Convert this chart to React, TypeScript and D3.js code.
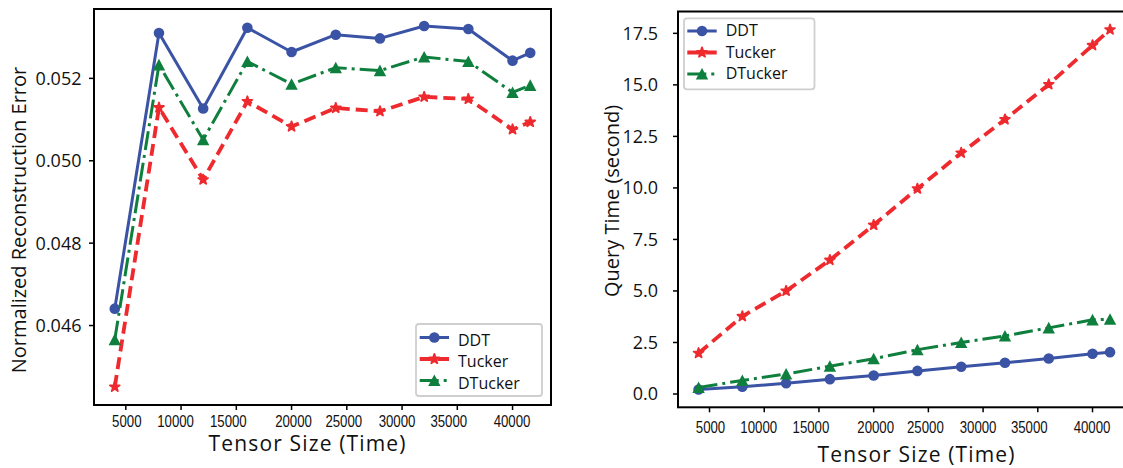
import React from "react";
import * as d3 from "d3";

// tensor size (time mode length) for every measurement
const tensorSizes = [4000, 8000, 12000, 16000, 20000, 24000, 28000, 32000, 36000, 40000, 41600];

// normalized reconstruction error
const errDDT = [0.04641, 0.0531, 0.05127, 0.05323, 0.05264, 0.05306, 0.05297, 0.05327, 0.0532, 0.05243, 0.05262];
const errTucker = [0.04451, 0.05129, 0.04954, 0.05144, 0.05083, 0.05128, 0.0512, 0.05155, 0.0515, 0.05076, 0.05094];
const errDTucker = [0.04566, 0.05233, 0.05051, 0.05241, 0.05186, 0.05226, 0.05219, 0.05252, 0.05241, 0.05166, 0.05183];

// query time in seconds
const timeDDT = [0.22, 0.35, 0.52, 0.72, 0.9, 1.12, 1.32, 1.52, 1.72, 1.95, 2.03];
const timeTucker = [1.98, 3.77, 5.0, 6.5, 8.2, 9.96, 11.7, 13.32, 15.02, 16.92, 17.68];
const timeDTucker = [0.32, 0.66, 0.97, 1.35, 1.71, 2.15, 2.5, 2.82, 3.21, 3.6, 3.63];

const seriesNames = ["DDT", "Tucker", "DTucker"];
const xTicks = [5000, 10000, 15000, 20000, 25000, 30000, 35000, 40000];
const errTicks = [0.046, 0.048, 0.05, 0.052];
const timeTicks = [0, 2.5, 5, 7.5, 10, 12.5, 15, 17.5];

// the tick labels in the figure sit a little off their ticks
const xTickNudge = [1, -5.5, -8, 2, -3, -5, -8.5, -0.5];

const X_DOMAIN: [number, number] = [2120, 43480];

const styles: Record<string, any> = {
  DDT: { color: "#3a53a4", dash: null, width: 3, marker: "circle" },
  Tucker: { color: "#ee2a2e", dash: "12 6", width: 3.8, marker: "star" },
  DTucker: { color: "#0f7f3e", dash: "19 5 3 5", width: 3, marker: "triangle" },
};

const tickFont = "'Open Sans', sans-serif";
const xTickFont = "'Liberation Sans', Arial, sans-serif";
const ROW = 21.5; // legend row height

function Marker({ kind, x, y, color }: any) {
  if (kind === "circle") return <circle cx={x} cy={y} r={5.3} fill={color} />;
  if (kind === "triangle") {
    return <path d={`M${x},${y - 6}L${x - 6.2},${y + 5.6}L${x + 6.2},${y + 5.6}Z`} fill={color} />;
  }
  const star = d3.symbol().type(d3.symbolStar).size(30)()!;
  return <path d={star} transform={`translate(${x},${y})`} fill={color} stroke={color} strokeWidth={1.8} strokeLinejoin="round" />;
}

function Legend({ box, handleX, textX, handleY0, textY0 }: any) {
  return (
    <g>
      <rect x={box.x} y={box.y} width={box.w} height={box.h} rx={3} fill="white" fillOpacity={0.85} stroke="#cfcfcf" strokeWidth={1.8} />
      {seriesNames.map((name, i) => {
        const s = styles[name];
        const hy = handleY0 + i * ROW;
        return (
          <g key={name}>
            <line x1={handleX[0]} x2={handleX[1]} y1={hy} y2={hy} stroke={s.color} strokeWidth={s.width} strokeDasharray={s.dash || undefined} />
            <Marker kind={s.marker} x={(handleX[0] + handleX[1]) / 2} y={hy} color={s.color} />
            <text x={textX} y={textY0 + i * ROW} fontFamily={tickFont} fontSize={16} fill="#111">
              {name}
            </text>
          </g>
        );
      })}
    </g>
  );
}

function Panel({ frame, yDomain, yTicks, yFmt, values, yLabel, yLabelPos, xLabelPos, tickBaseline, yTickEnd, legend }: any) {
  const x = d3.scaleLinear().domain(X_DOMAIN).range([frame.left, frame.right]);
  const y = d3.scaleLinear().domain(yDomain).range([frame.bottom, frame.top]);
  const line = d3
    .line<number>()
    .x((_, i) => x(tensorSizes[i]))
    .y((d) => y(d));

  return (
    <g>
      {seriesNames.map((name, k) => {
        const s = styles[name];
        return (
          <g key={name}>
            <path d={line(values[k])!} fill="none" stroke={s.color} strokeWidth={s.width} strokeDasharray={s.dash || undefined} strokeLinejoin="round" />
            {values[k].map((v: number, i: number) => (
              <Marker key={i} kind={s.marker} x={x(tensorSizes[i])} y={y(v)} color={s.color} />
            ))}
          </g>
        );
      })}

      <rect x={frame.left} y={frame.top} width={frame.right - frame.left} height={frame.bottom - frame.top} fill="none" stroke="#000" strokeWidth={2} />

      {yTicks.map((t: number) => (
        <g key={t}>
          <line x1={frame.left - 5} x2={frame.left} y1={y(t)} y2={y(t)} stroke="#000" strokeWidth={1.5} />
          <text x={yTickEnd} y={y(t)} dy="0.36em" textAnchor="end" fontFamily={tickFont} fontSize={18} fill="#111">
            {yFmt(t)}
          </text>
        </g>
      ))}

      {xTicks.map((t, i) => {
        const label = String(t);
        return (
          <g key={t}>
            <line x1={x(t)} x2={x(t)} y1={frame.bottom} y2={frame.bottom + 5} stroke="#000" strokeWidth={1.5} />
            <text
              x={x(t) + xTickNudge[i]}
              y={tickBaseline}
              textAnchor="middle"
              fontFamily={xTickFont}
              fontSize={16}
              textLength={label.length * 7.35}
              lengthAdjust="spacingAndGlyphs"
              fill="#111"
            >
              {label}
            </text>
          </g>
        );
      })}

      <text x={xLabelPos[0]} y={xLabelPos[1]} textAnchor="middle" fontFamily={tickFont} fontSize={21} textLength={197} lengthAdjust="spacing" fill="#111">
        Tensor Size (Time)
      </text>
      <text
        transform={`translate(${yLabelPos[0]},${yLabelPos[1]}) rotate(-90)`}
        textAnchor="middle"
        fontFamily={tickFont}
        fontSize={20}
        fill="#111"
      >
        {yLabel}
      </text>

      <Legend {...legend} />
    </g>
  );
}

export default function App() {
  return (
    <svg width={1123} height={468} style={{ position: "absolute", left: 0, top: 0, background: "white" }}>
      <Panel
        frame={{ left: 94, right: 551, top: 9, bottom: 405 }}
        yDomain={[0.044071, 0.053684]}
        yTicks={errTicks}
        yFmt={d3.format(".3f")}
        values={[errDDT, errTucker, errDTucker]}
        yLabel="Normalized Reconstruction Error"
        yLabelPos={[26, 220]}
        xLabelPos={[307, 450.5]}
        tickBaseline={427}
        yTickEnd={81.5}
        legend={{
          box: { x: 416, y: 324, w: 126, h: 72 },
          handleX: [419.7, 449],
          textX: 458,
          handleY0: 337.5,
          textY0: 345.5,
        }}
      />
      <Panel
        frame={{ left: 678, right: 1130.6, top: 11.5, bottom: 407.3 }}
        yDomain={[-0.645, 18.56]}
        yTicks={timeTicks}
        yFmt={d3.format(".1f")}
        values={[timeDDT, timeTucker, timeDTucker]}
        yLabel="Query Time (second)"
        yLabelPos={[619, 201]}
        xLabelPos={[916, 461.5]}
        tickBaseline={433}
        yTickEnd={658}
        legend={{
          box: { x: 684, y: 18.3, w: 130.5, h: 71 },
          handleX: [687.3, 716.7],
          textX: 725.7,
          handleY0: 31,
          textY0: 36,
        }}
      />
    </svg>
  );
}
